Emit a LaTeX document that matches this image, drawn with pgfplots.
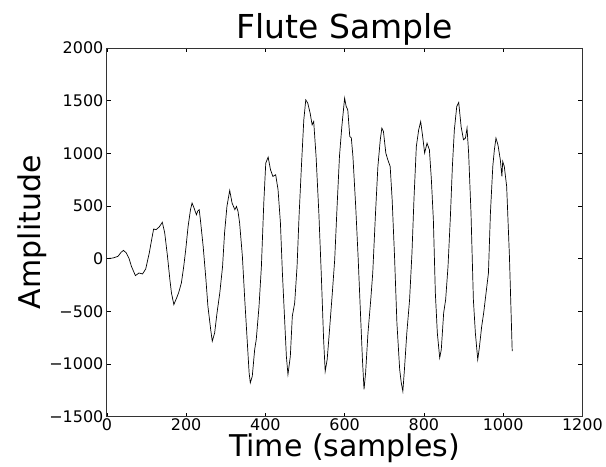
\documentclass[border=0pt]{standalone}
\usepackage{pgfplots}
\pgfplotsset{compat=1.18}
\usepackage{fontspec}
\setmainfont{DejaVu Sans}

\pgfplotstableread{
t amp
0 0
15 5
28 21
36 60
42 78
49 53
56 0
62 -74
72 -162
81 -137
90 -146
98 -99
107 53
113 180
118 281
124 274
132 300
140 344
146 243
153 21
159 -200
163 -326
169 -437
176 -374
181 -326
188 -232
194 -74
199 84
205 306
211 464
215 527
220 480
226 416
229 448
233 464
236 369
243 116
250 -200
255 -453
262 -674
266 -785
272 -706
278 -516
285 -326
292 -74
297 243
303 495
310 647
316 527
323 464
327 495
331 448
335 338
342 21
348 -390
354 -769
359 -1085
362 -1180
367 -1117
373 -864
377 -769
384 -453
390 -74
396 527
401 907
407 963
413 843
419 780
426 796
432 654
438 338
443 -137
449 -611
453 -928
457 -1101
463 -928
468 -548
474 -421
480 -74
485 400
491 875
497 1317
502 1507
507 1476
513 1381
518 1270
522 1301
528 969
535 432
541 -137
547 -769
551 -1070
556 -959
562 -674
569 -326
575 -10
581 495
587 969
593 1254
600 1523
604 1444
608 1412
613 1159
617 1144
621 969
628 495
634 21
640 -516
645 -959
649 -1243
653 -1085
659 -706
666 -390
671 -137
678 432
684 875
690 1128
694 1239
698 1207
704 1002
709 938
715 875
720 559
726 21
732 -611
739 -1054
743 -1180
747 -1260
751 -1054
757 -706
764 -390
770 53
775 559
781 1064
787 1223
792 1301
797 1159
802 1002
808 1096
814 1033
819 748
824 369
829 -326
834 -706
840 -943
844 -864
850 -516
855 -390
861 -74
867 400
872 875
877 1223
883 1444
888 1482
894 1254
900 1128
905 1144
909 1239
913 1002
919 432
925 -390
930 -706
936 -959
940 -848
946 -643
951 -516
957 -326
963 -137
968 432
974 875
978 1033
982 1144
987 1080
993 938
997 780
999 922
1003 875
1009 685
1016 21
1023 -880
}\flute

\begin{document}
\begin{tikzpicture}
\begin{axis}[
    name=ax,
    scale only axis,
    width=476pt, height=369pt,
    xmin=0, xmax=1200,
    ymin=-1500, ymax=2000,
    xtick={0,200,...,1200},
    ytick={-1500,-1000,...,2000},
    yticklabels={−1500,−1000,−500,0,500,1000,1500,2000},
    scaled ticks=false,
    /pgf/number format/assume math mode=true,
    /pgf/number format/1000 sep={},
    tick label style={font=\fontsize{16}{18}\selectfont},
    xticklabel style={yshift=1pt},
    tick align=inside,
    major tick length=4pt,
    axis line style={line width=0.8pt, black!80},
    every tick/.style={black, line width=0.6pt},
    title={Flute Sample},
    title style={font=\fontsize{33}{36}\selectfont, yshift=-7pt},
    xlabel={Time (samples)},
    ylabel={Amplitude},
    label style={font=\fontsize{30}{32}\selectfont},
    xlabel style={yshift=4pt},
    ylabel style={yshift=-4pt},
]
\addplot[black, line width=0.7pt, mark=none] table[x=t, y=amp] {\flute};
\end{axis}
\useasboundingbox ([xshift=-107pt, yshift=-49pt]ax.south west) rectangle ([xshift=23pt, yshift=48pt]ax.north east);
\end{tikzpicture}
\end{document}
